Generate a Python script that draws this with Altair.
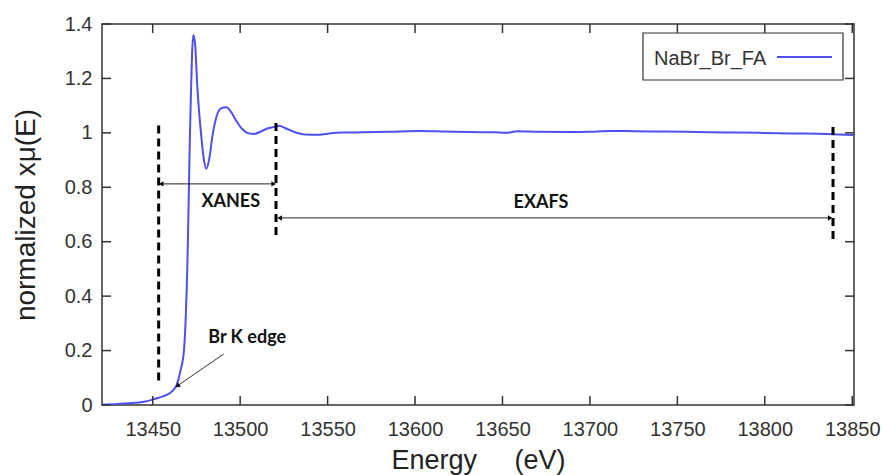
import altair as alt
import pandas as pd

# ---- spectrum ----
energy = [13421, 13430, 13440, 13445, 13449, 13453, 13458, 13461, 13463.7, 13466,
          13467.9, 13468.9, 13469.8, 13470.4, 13471.1, 13471.8, 13472.5, 13473.2, 13474.2,
          13475.5, 13477.8, 13479.3, 13480.7, 13482.2, 13484.1, 13486.5, 13489.0, 13492.1,
          13495.0, 13497.4, 13501, 13504.5, 13507.9, 13511.5, 13515.5, 13520.3, 13522.2,
          13526, 13531, 13537, 13544.1, 13550, 13558.4, 13570, 13585, 13603, 13617, 13631.7,
          13645, 13652.7, 13658.4, 13670, 13688.9, 13700, 13711.7, 13725, 13740, 13755,
          13768.9, 13785, 13797, 13815, 13835.5, 13851]
mu = [0.002, 0.004, 0.008, 0.012, 0.018, 0.026, 0.037, 0.05, 0.074, 0.129,
      0.202, 0.325, 0.508, 0.692, 0.9375, 1.13, 1.29, 1.36, 1.33,
      1.17, 0.986, 0.90, 0.868, 0.90, 0.986, 1.06, 1.09, 1.094,
      1.075, 1.048, 1.015, 0.999, 0.996, 1.004, 1.016, 1.023, 1.026,
      1.017, 1.003, 0.994, 0.993, 0.997, 1.001, 1.002, 1.004, 1.007, 1.005, 1.003,
      1.002, 1.0, 1.006, 1.004, 1.003, 1.004, 1.007, 1.006, 1.005, 1.004,
      1.002, 1.001, 1.0, 0.998, 0.996, 0.992]
series_name = ["NaBr_Br_FA"]

x_ticks = [13450, 13500, 13550, 13600, 13650, 13700, 13750, 13800, 13850]
y_ticks = [0, 0.2, 0.4, 0.6, 0.8, 1.0, 1.2, 1.4]

# ---- annotations ----
region_edge_e = [13453.4, 13520.5, 13839.0]
region_edge_lo = [0.09, 0.625, 0.61]
region_edge_hi = [1.035, 1.04, 1.035]

range_names = ["XANES", "EXAFS"]
range_start = [13454.8, 13522.6]
range_end = [13519.2, 13837.4]
range_level = [0.8125, 0.6875]
range_label_e = [13494.6, 13672]
range_label_y = [0.746, 0.743]

edge_label = ["Br K edge"]
edge_label_e = [13504]
edge_label_y = [0.246]
edge_arrow_from = (13490.6, 0.1875)
edge_arrow_to = (13464.5, 0.072)

W, H = 752, 381
FONT = "Liberation Sans"
AXC = "#333333"
LINEC = "#4f4ff0"

xs = alt.Scale(domain=[13421, 13851], nice=False, zero=False)
ys = alt.Scale(domain=[0, 1.4], nice=False, zero=False)

x_axis = alt.Axis(
    values=x_ticks, format="d", ticks=False, domain=False, grid=False,
    labelFont=FONT, labelFontSize=20, labelColor=AXC, labelPadding=14,
    title="Energy\u00a0\u00a0\u00a0\u00a0\u00a0(eV)", titleFont=FONT, titleFontSize=27,
    titleFontWeight="normal", titleColor="#222222", titleX=376, titleY=63,
    titleAlign="center", titleBaseline="alphabetic")
y_axis = alt.Axis(
    values=y_ticks, format="~g", ticks=False, domain=False, grid=False,
    labelFont=FONT, labelFontSize=20, labelColor=AXC, labelPadding=10,
    title="normalized xμ(E)", titleFont=FONT, titleFontSize=28,
    titleFontWeight="normal", titleColor="#222222", titleX=-76, titleY=190.5,
    titleAlign="center", titleBaseline="middle")


def X(field):
    return alt.X(field, type="quantitative", scale=xs, axis=x_axis, title="Energy\u00a0\u00a0\u00a0\u00a0\u00a0(eV)")


def Y(field):
    return alt.Y(field, type="quantitative", scale=ys, axis=y_axis, title="normalized xμ(E)")


spec = pd.DataFrame({"E": energy, "mu": mu})
line = alt.Chart(spec).mark_line(color=LINEC, strokeWidth=2, interpolate="monotone").encode(
    x=X("E"), y=Y("mu"))

xt = pd.DataFrame({"t": x_ticks})
yt = pd.DataFrame({"t": y_ticks})
tick_style = dict(color=AXC, strokeWidth=1.5)
ticks = [
    alt.Chart(xt).mark_rule(**tick_style).encode(x=X("t"), y=alt.value(H), y2=alt.value(H - 9)),
    alt.Chart(xt).mark_rule(**tick_style).encode(x=X("t"), y=alt.value(0), y2=alt.value(9)),
    alt.Chart(yt).mark_rule(**tick_style).encode(y=Y("t"), x=alt.value(0), x2=alt.value(9)),
    alt.Chart(yt).mark_rule(**tick_style).encode(y=Y("t"), x=alt.value(W), x2=alt.value(W - 9)),
]

edges = pd.DataFrame({"E": region_edge_e, "lo": region_edge_lo, "hi": region_edge_hi})
dashed = alt.Chart(edges).mark_rule(color="black", strokeWidth=3, strokeDash=[8, 5]).encode(
    x=X("E"), y=Y("lo"), y2="hi:Q")

ranges = pd.DataFrame({"name": range_names, "s": range_start, "e": range_end,
                       "lv": range_level, "le": range_label_e, "ly": range_label_y})
range_lines = alt.Chart(ranges).mark_rule(color="#222222", strokeWidth=1).encode(
    x=X("s"), x2="e:Q", y=Y("lv"))
heads_l = alt.Chart(ranges).mark_point(shape="triangle-left", filled=True, color="#111111",
                                       size=30, opacity=1).encode(x=X("s"), y=Y("lv"))
heads_r = alt.Chart(ranges).mark_point(shape="triangle-right", filled=True, color="#111111",
                                       size=30, opacity=1).encode(x=X("e"), y=Y("lv"))
range_text = alt.Chart(ranges).mark_text(font="Lato", fontWeight="bold", fontSize=18,
                                         color="#111111", align="center", baseline="middle").encode(
    x=X("le"), y=Y("ly"), text="name:N")

edge_df = pd.DataFrame({"x1": [edge_arrow_from[0]], "y1": [edge_arrow_from[1]],
                        "x2": [edge_arrow_to[0]], "y2": [edge_arrow_to[1]],
                        "lab": edge_label, "le": edge_label_e, "ly": edge_label_y})
edge_line = alt.Chart(edge_df).mark_rule(color="#333333", strokeWidth=1).encode(
    x=X("x1"), y=Y("y1"), x2="x2:Q", y2="y2:Q")
edge_head = alt.Chart(edge_df).mark_point(shape="triangle", angle=235, filled=True,
                                          color="#111111", size=30, opacity=1).encode(
    x=X("x2"), y=Y("y2"))
edge_text = alt.Chart(edge_df).mark_text(font="Lato", fontWeight="bold", fontSize=18,
                                         color="#111111", align="center", baseline="middle").encode(
    x=X("le"), y=Y("ly"), text="lab:N")

leg_df = pd.DataFrame({"name": series_name})
leg_box = alt.Chart(leg_df).mark_rect(fill="white", stroke=AXC, strokeWidth=1.2).encode(
    x=alt.value(541), x2=alt.value(741), y=alt.value(9), y2=alt.value(56))
leg_text = alt.Chart(leg_df).mark_text(font=FONT, fontSize=20, color=AXC, align="left",
                                       baseline="alphabetic").encode(
    x=alt.value(552), y=alt.value(41), text="name:N")
leg_line = alt.Chart(leg_df).mark_rule(color=LINEC, strokeWidth=2).encode(
    x=alt.value(675), x2=alt.value(730), y=alt.value(33))

chart = alt.layer(
    line, *ticks, dashed, range_lines, heads_l, heads_r, range_text,
    edge_line, edge_head, edge_text, leg_box, leg_text, leg_line
).properties(
    width=W, height=H,
    autosize=alt.AutoSizeParams(type="none"),
    padding={"left": 102, "top": 24, "right": 28, "bottom": 70},
    background="white",
).configure_view(stroke=AXC, strokeWidth=1.5)

chart.save("out.html", embed_options={"renderer": "svg", "actions": False})
